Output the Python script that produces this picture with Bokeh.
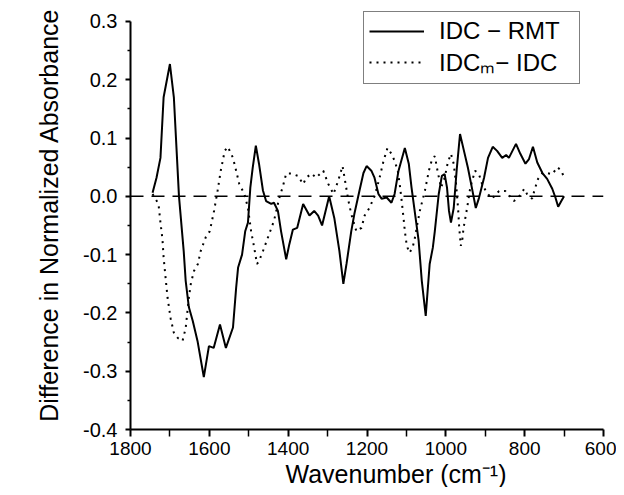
from bokeh.plotting import figure
from bokeh.models import Range1d, FixedTicker, PrintfTickFormatter, Legend, LegendItem, Span, Title
from bokeh.embed import file_html
from bokeh.resources import INLINE

# IDC - RMT (solid)
idc_rmt_x = [1744, 1734, 1724, 1716, 1700, 1690, 1677, 1665, 1660, 1652, 1642, 1630, 1614,
             1601, 1589, 1573, 1558, 1540, 1532, 1527, 1517, 1509, 1502, 1496, 1490, 1482,
             1474, 1464, 1456, 1443, 1436, 1426, 1418, 1405, 1397, 1388, 1377, 1362, 1346,
             1334, 1324, 1314, 1296, 1283, 1270, 1260, 1252, 1240, 1232, 1219, 1209, 1201,
             1189, 1181, 1171, 1163, 1150, 1138, 1130, 1120, 1104, 1094, 1087, 1069, 1061,
             1051, 1041, 1033, 1028, 1018, 1010, 1003, 997, 992, 987, 980, 972, 964, 954,
             944, 934, 924, 916, 903, 893, 881, 870, 857, 847, 840, 822, 811, 798, 789, 779,
             768, 755, 743, 730, 722, 715, 707, 700]
idc_rmt_y = [0.006, 0.032, 0.066, 0.17, 0.227, 0.17, 0.0, -0.094, -0.145, -0.19, -0.214, -0.248, -0.31,
             -0.257, -0.26, -0.22, -0.26, -0.225, -0.157, -0.122, -0.1, -0.06, -0.045, 0.015, 0.049, 0.087,
             0.056, 0.01, -0.008, -0.013, -0.011, -0.025, -0.06, -0.108, -0.082, -0.057, -0.054, -0.013, -0.033,
             -0.025, -0.033, -0.05, 0.0, -0.037, -0.094, -0.15, -0.116, -0.06, -0.03, 0.01, 0.04, 0.052,
             0.044, 0.032, 0.004, -0.004, -0.002, -0.011, 0.004, 0.044, 0.083, 0.056, 0.015, -0.076, -0.145,
             -0.205, -0.116, -0.088, -0.06, 0.004, 0.035, 0.038, 0.015, -0.025, -0.045, -0.02, 0.049, 0.107, 0.078,
             0.049, 0.015, -0.02, -0.003, 0.032, 0.066, 0.085, 0.078, 0.066, 0.071, 0.066, 0.09, 0.073, 0.056, 0.064, 0.085,
             0.058, 0.04, 0.03, 0.013, -0.002, -0.018, -0.008, 0.0]

# IDCm - IDC (dotted)
idcm_idc_x = [1744, 1729, 1724, 1719, 1716, 1706, 1698, 1690, 1680, 1668, 1660, 1652, 1647, 1639,
              1629, 1622, 1609, 1599, 1588, 1579, 1571, 1561, 1553, 1540, 1532, 1524, 1511, 1502,
              1494, 1487, 1479, 1474, 1464, 1451, 1436, 1423, 1413, 1405, 1392, 1375, 1362, 1354,
              1341, 1329, 1311, 1298, 1285, 1273, 1262, 1257, 1247, 1240, 1227, 1214, 1206, 1194,
              1181, 1168, 1158, 1148, 1138, 1130, 1122, 1117, 1112, 1107, 1104, 1099, 1092, 1084,
              1079, 1074, 1066, 1053, 1043, 1036, 1028, 1020, 1012, 1003, 995, 987, 980, 974, 969,
              966, 962, 958, 955, 946, 938, 926, 916, 908, 896, 883, 865, 849, 827, 814, 801, 794,
              781, 774, 766, 755, 743, 730, 717, 707, 700]
idcm_idc_y = [0.004, -0.013, -0.045, -0.073, -0.105, -0.174, -0.21, -0.234, -0.243, -0.248, -0.226, -0.174, -0.15, -0.128,
              -0.116, -0.094, -0.07, -0.06, -0.025, 0.01, 0.044, 0.078, 0.085, 0.066, 0.044, 0.021, 0.004, -0.02,
              -0.06, -0.085, -0.116, -0.111, -0.094, -0.07, -0.042, -0.004, 0.018, 0.039, 0.039, 0.035, 0.021, 0.032,
              0.039, 0.032, 0.044, 0.021, 0.004, 0.027, 0.052, 0.032, -0.008, -0.03, -0.06, -0.054, -0.033, -0.02,
              0.0, 0.032, 0.061, 0.083, 0.073, 0.061, 0.044, 0.021, -0.008, -0.039, -0.06, -0.085, -0.097, -0.087,
              -0.073, -0.054, -0.025, 0.01, 0.044, 0.061, 0.069, 0.04, 0.015, 0.032, 0.058, 0.073, 0.056, 0.021, -0.02,
              -0.054, -0.085, -0.073, -0.054, -0.02, 0.015, 0.044, 0.038, 0.021, 0.006, -0.004, 0.009, 0.009, -0.008, 0.0, 0.013, 0.004,
              -0.004, 0.013, 0.03, 0.04, 0.04, 0.038, 0.05, 0.044, 0.032]

x_major = [1800, 1600, 1400, 1200, 1000, 800, 600]
x_minor = [1700, 1500, 1300, 1100, 900, 700]
y_major = [-0.4, -0.3, -0.2, -0.1, 0.0, 0.1, 0.2, 0.3]
y_minor = [-0.35, -0.25, -0.15, -0.05, 0.05, 0.15, 0.25]

FONT = "Liberation Sans"

# the frame reaches above 0.3 (to the canvas top) so the legend box, which sits above the
# top of the axis, is not clipped; the axis line itself is bounded to -0.4 .. 0.3
p = figure(width=616, height=487, output_backend="svg", toolbar_location=None,
           x_range=Range1d(1800, 600), y_range=Range1d(-0.4, 0.336),
           min_border_left=130, min_border_right=13, min_border_top=0, min_border_bottom=58)
p.grid.visible = False
p.outline_line_color = None
p.background_fill_color = "white"
p.border_fill_color = "white"

zero = Span(location=0, dimension="width", line_color="black", line_width=1.5, line_dash="13 8")
p.add_layout(zero)

r1 = p.line(idc_rmt_x, idc_rmt_y, line_color="black", line_width=2)
r2 = p.line(idcm_idc_x, idcm_idc_y, line_color="black", line_width=2, line_dash="2 5")

for ax in (p.xaxis[0], p.yaxis[0]):
    ax.axis_line_width = 2
    ax.axis_line_color = "black"
    ax.major_tick_line_width = 2
    ax.minor_tick_line_width = 1.5
    ax.major_tick_in = 0
    ax.minor_tick_in = 0
    ax.major_label_text_font = FONT
    ax.major_label_text_color = "black"
    ax.axis_label_text_font = FONT
    ax.axis_label_text_font_style = "normal"
    ax.axis_label_text_color = "black"

p.xaxis.ticker = FixedTicker(ticks=x_major, minor_ticks=x_minor)
p.xaxis.formatter = PrintfTickFormatter(format="%d")
p.xaxis.major_tick_out = 7
p.xaxis.minor_tick_out = 7
p.xaxis.major_label_standoff = 5
p.xaxis.major_label_text_font_size = "19px"

p.yaxis.ticker = FixedTicker(ticks=y_major, minor_ticks=y_minor)
p.yaxis.bounds = (-0.4, 0.3)
p.yaxis.formatter = PrintfTickFormatter(format="%.1f")
p.yaxis.major_tick_out = 5
p.yaxis.minor_tick_out = 3
p.yaxis.major_label_standoff = 8
p.yaxis.major_label_text_font_size = "20px"
p.yaxis.axis_label = "Difference in Normalized Absorbance"
p.yaxis.axis_label_text_font_size = "25px"
p.yaxis.axis_label_standoff = 17

xtitle = Title(text="Wavenumber (cm\u207b\u00b9)", align="left", offset=155, standoff=0,
               text_font=FONT, text_font_size="25px", text_font_style="normal", text_color="black")
p.add_layout(xtitle, "below")

legend = Legend(items=[LegendItem(label="IDC \u2212 RMT", renderers=[r1]),
                       LegendItem(label="IDC\u2098\u2212 IDC", renderers=[r2])],
                location=(233, 345), orientation="vertical",
                label_text_font=FONT, label_text_font_size="24px", label_text_color="black",
                glyph_width=55, glyph_height=28, label_height=28, label_width=135, label_standoff=15,
                padding=5, spacing=0, margin=0,
                border_line_color="black", border_line_width=1.5,
                background_fill_color="white", background_fill_alpha=1.0)
p.add_layout(legend, "center")

open("out.html", "w").write(file_html(p, INLINE))
